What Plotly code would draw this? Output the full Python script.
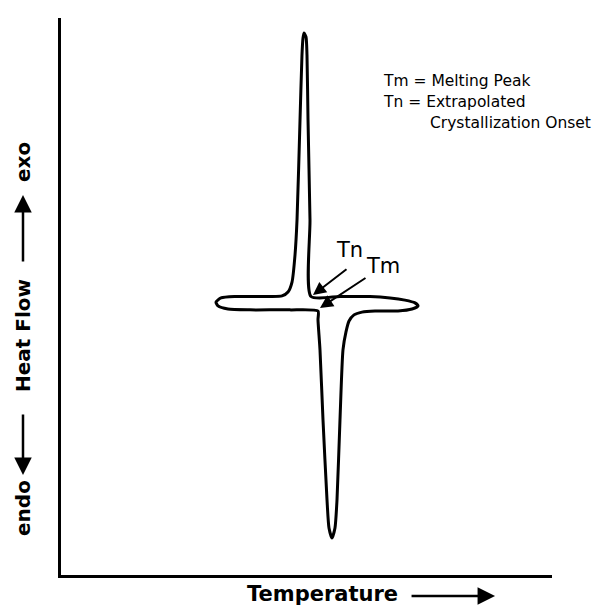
import plotly.graph_objects as go

# Closed DSC loop: cooling (exo peak, Tn) + heating (endo peak, Tm)
temperature = [50.92, 56.82, 62.93, 67.01, 70.06, 72.10, 72.71, 71.49, 68.64, 63.95,
               61.30, 59.67, 58.66, 58.04, 57.43, 56.82, 56.21, 55.80, 55.19, 54.58,
               54.18, 53.36, 52.75, 52.34, 52.34, 46.64, 38.49, 34.01, 31.98, 31.57,
               32.59, 35.44, 42.57, 45.01, 46.23, 47.05, 47.66, 48.07, 48.68, 49.08,
               49.29, 49.49, 49.90, 50.10, 50.31, 50.71, 50.92]
heat_flow = [0.00, 0.00, 0.00, -0.05, -0.13, -0.23, -0.34, -0.45, -0.52, -0.52,
             -0.56, -0.66, -0.88, -1.27, -1.92, -4.43, -7.31, -8.31, -8.67, -8.31,
             -7.31, -4.43, -1.92, -0.84, -0.52, -0.48, -0.48, -0.45, -0.34, -0.20,
             -0.05, 0.00, 0.00, 0.02, 0.16, 0.52, 1.49, 2.75, 6.34, 8.67,
             9.28, 9.46, 9.32, 8.67, 6.34, 2.75, 0.00]

x_range = [0, 100]
y_range = [-10, 10]

legend_lines = ["Tm = Melting Peak", "Tn = Extrapolated", "Crystallization Onset"]

fig = go.Figure()
fig.add_trace(go.Scatter(
    x=temperature, y=heat_flow, mode="lines",
    line=dict(color="black", width=3, shape="spline", smoothing=0.6),
    hoverinfo="skip", showlegend=False))

font = "DejaVu Sans"
ann = []
# Tn / Tm pointer arrows
ann.append(dict(x=51.32, y=0.05, ax=58.45, ay=1.02, xref="x", yref="y", axref="x", ayref="y",
                text="", showarrow=True, arrowhead=2, arrowsize=1.3, arrowwidth=2, arrowcolor="black"))
ann.append(dict(x=52.75, y=-0.41, ax=62.32, ay=0.70, xref="x", yref="y", axref="x", ayref="y",
                text="", showarrow=True, arrowhead=2, arrowsize=1.3, arrowwidth=2, arrowcolor="black"))
ann.append(dict(x=58.66, y=1.67, xref="x", yref="y", text="Tn", showarrow=False,
                xanchor="center", yanchor="middle",
                font=dict(family=font, size=21, color="black")))
ann.append(dict(x=65.58, y=1.10, xref="x", yref="y", text="Tm", showarrow=False,
                xanchor="center", yanchor="middle",
                font=dict(family=font, size=21, color="black")))
# legend text
ann.append(dict(x=65.2, y=7.74, xref="x", yref="y", text=legend_lines[0], showarrow=False,
                xanchor="left", yanchor="middle", font=dict(family=font, size=15.5, color="black")))
ann.append(dict(x=65.2, y=6.98, xref="x", yref="y", text=legend_lines[1], showarrow=False,
                xanchor="left", yanchor="middle", font=dict(family=font, size=15.5, color="black")))
ann.append(dict(x=74.7, y=6.23, xref="x", yref="y", text=legend_lines[2], showarrow=False,
                xanchor="left", yanchor="middle", font=dict(family=font, size=15.5, color="black")))
# x-axis label with arrow
ann.append(dict(x=0.5316, y=-0.0345, xref="paper", yref="paper", text="<b>Temperature</b>",
                showarrow=False, xanchor="center", yanchor="middle",
                font=dict(family=font, size=21, color="black")))
ann.append(dict(x=0.884, y=-0.0377, xref="paper", yref="paper", ax=-85, ay=0, text="",
                showarrow=True, arrowhead=2, arrowsize=1.4, arrowwidth=2.5, arrowcolor="black"))
# y-axis label with arrows
ann.append(dict(x=-0.0774, y=0.1203, xref="paper", yref="paper", text="<b>endo</b>", textangle=-90,
                showarrow=False, xanchor="center", yanchor="middle",
                font=dict(family=font, size=20, color="black")))
ann.append(dict(x=-0.0774, y=0.4309, xref="paper", yref="paper", text="<b>Heat Flow</b>", textangle=-90,
                showarrow=False, xanchor="center", yanchor="middle",
                font=dict(family=font, size=20, color="black")))
ann.append(dict(x=-0.0774, y=0.7415, xref="paper", yref="paper", text="<b>exo</b>", textangle=-90,
                showarrow=False, xanchor="center", yanchor="middle",
                font=dict(family=font, size=20, color="black")))
ann.append(dict(x=-0.0774, y=0.1795, xref="paper", yref="paper", ax=0, ay=-62, text="",
                showarrow=True, arrowhead=2, arrowsize=1.4, arrowwidth=2.5, arrowcolor="black"))
ann.append(dict(x=-0.0774, y=0.6822, xref="paper", yref="paper", ax=0, ay=68, text="",
                showarrow=True, arrowhead=2, arrowsize=1.4, arrowwidth=2.5, arrowcolor="black"))

fig.update_layout(
    width=600, height=605,
    margin=dict(l=53, r=56, t=10, b=38),
    paper_bgcolor="white", plot_bgcolor="white",
    annotations=ann,
    xaxis=dict(range=x_range, showgrid=False, zeroline=False, showticklabels=False, ticks="",
               showline=True, linecolor="black", linewidth=2.5),
    yaxis=dict(range=y_range, showgrid=False, zeroline=False, showticklabels=False, ticks="",
               showline=True, linecolor="black", linewidth=2.5),
)
fig.write_html("out.html")
